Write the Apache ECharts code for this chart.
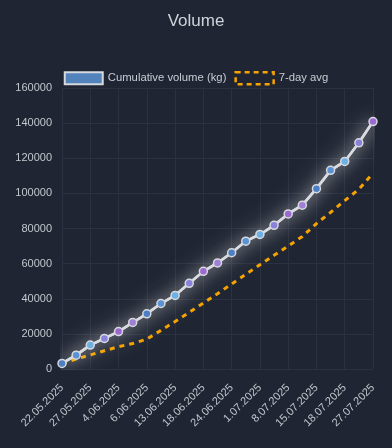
<!DOCTYPE html>
<html>
<head>
<meta charset="utf-8">
<script src="https://cdn.jsdelivr.net/npm/echarts@6/dist/echarts.min.js"></script>
<style>
html,body{margin:0;padding:0;background:#1f2532;}
#chart{width:392px;height:448px;}
</style>
</head>
<body>
<div id="chart"></div>
<script>
const categories = ['22.05.2025','25.05.2025','27.05.2025','30.05.2025','4.06.2025','5.06.2025','6.06.2025','11.06.2025','13.06.2025','16.06.2025','18.06.2025','20.06.2025','24.06.2025','27.06.2025','1.07.2025','4.07.2025','8.07.2025','11.07.2025','15.07.2025','17.07.2025','18.07.2025','22.07.2025','27.07.2025'];
const cumulativeVolume = [3200, 7900, 13600, 17400, 21300, 26500, 31400, 37300, 41900, 48800, 55600, 60400, 66200, 72800, 76600, 81800, 88300, 93300, 102700, 113100, 118200, 128800, 140900];
const sevenDayAvg = [3000, 5700, 8000, 10400, 12700, 14500, 17000, 22000, 27000, 32200, 37500, 42900, 48400, 53900, 59400, 64700, 70000, 75500, 82800, 89200, 95900, 102300, 111400];
const markerColors = ['#4e7fc4','#5a92d4','#6cb0e6','#8a82da','#9b69cf','#a07fd6'];

const chart = echarts.init(document.getElementById('chart'), null, {renderer:'canvas'});
const font = 'Liberation Sans, Arial, sans-serif';
chart.setOption({
  animation: false,
  backgroundColor: '#1f2532',
  title: {
    text: 'Volume', left: 'center', top: 8,
    textStyle: {color: '#cfd3da', fontSize: 17, fontWeight: 'normal', fontFamily: font}
  },
  legend: {
    top: 66, left: 'center', itemGap: 8, itemWidth: 38, itemHeight: 12,
    textStyle: {color: '#c8ccd4', fontSize: 11.3, fontFamily: font},
    data: [
      {name: 'Cumulative volume (kg)', icon: 'rect', itemStyle: {color: '#5383bd', borderColor: '#d6d9de', borderWidth: 2}},
      {name: '7-day avg', icon: 'rect', itemStyle: {color: 'rgba(0,0,0,0)', borderColor: '#f5a300', borderWidth: 2.5, borderType: [5,4]}}
    ]
  },
  grid: {left: 62, right: 19, top: 88, bottom: 79, containLabel: false},
  xAxis: {
    type: 'category', data: categories, boundaryGap: false,
    axisLine: {show: false}, axisTick: {show: false},
    axisLabel: {interval: 1, rotate: 45, color: '#c3c7ce', fontSize: 11, fontFamily: font, margin: 17},
    splitLine: {show: true, interval: 1, lineStyle: {color: '#2a3141', width: 1}}
  },
  yAxis: {
    type: 'value', min: 0, max: 160000, interval: 20000,
    axisLine: {show: false}, axisTick: {show: false},
    axisLabel: {color: '#c3c7ce', fontSize: 11, fontFamily: font, margin: 10, formatter: v => String(v)},
    splitLine: {lineStyle: {color: '#2a3141', width: 1}}
  },
  series: [
    {
      name: 'glow', type: 'line', z: 1, silent: true,
      data: cumulativeVolume, symbol: 'none',
      lineStyle: {color: '#d9dbe0', width: 2.5, shadowBlur: 26, shadowColor: 'rgba(255,255,255,1)'}
    },
    {
      name: 'Cumulative volume (kg)', type: 'line', z: 3,
      data: cumulativeVolume.map((v, i) => ({value: v, itemStyle: {color: markerColors[i % markerColors.length]}})),
      symbol: 'circle', symbolSize: 8,
      lineStyle: {color: '#d9dbe0', width: 2.5, shadowBlur: 14, shadowColor: 'rgba(255,255,255,0.9)'},
      itemStyle: {color: '#5383bd', borderColor: '#d6d9de', borderWidth: 1.5}
    },
    {
      name: '7-day avg', type: 'line', z: 2,
      data: sevenDayAvg,
      symbol: 'none',
      lineStyle: {color: '#f5a300', width: 3, type: [5, 5]},
      itemStyle: {color: '#f5a300'}
    }
  ]
});
</script>
</body>
</html>
